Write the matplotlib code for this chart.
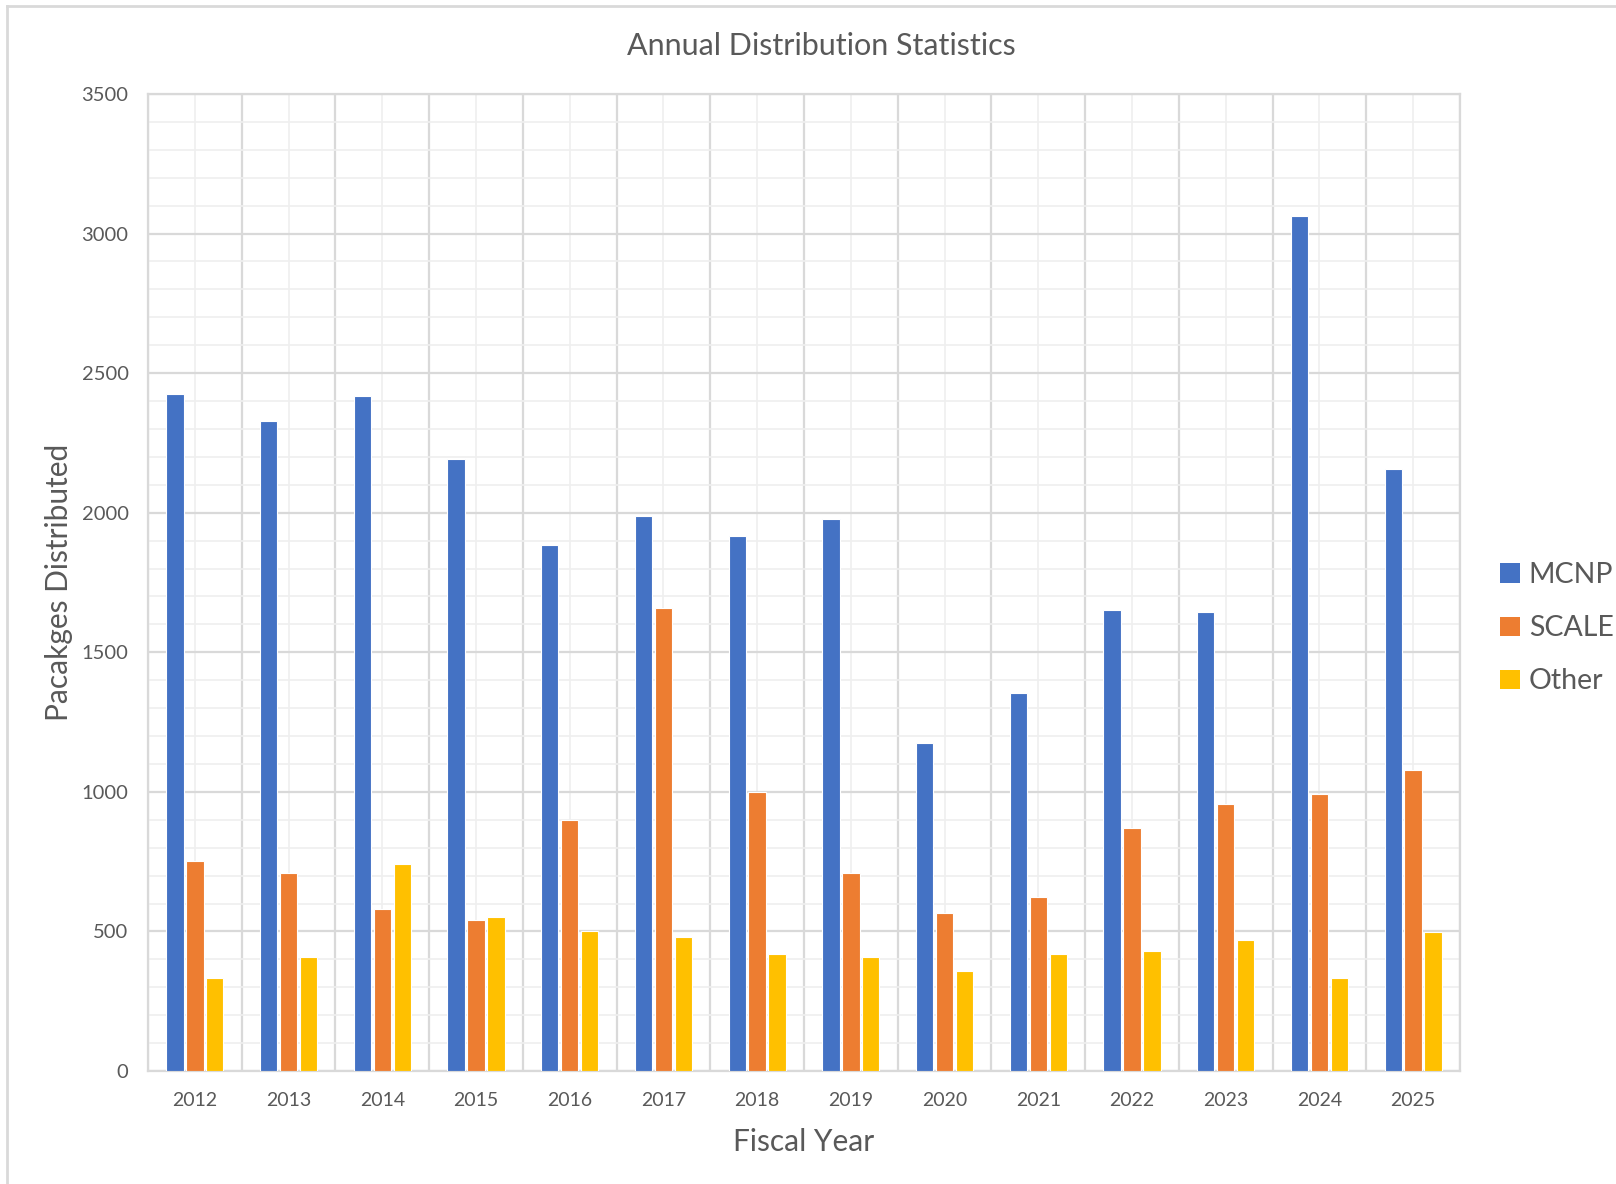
import matplotlib
matplotlib.use("Agg")
import matplotlib.pyplot as plt
import numpy as np
from matplotlib.ticker import MultipleLocator, FixedLocator
from matplotlib.lines import Line2D
from matplotlib.patches import Patch

plt.rcParams['font.family'] = ['Lato', 'DejaVu Sans']

years = ['2012', '2013', '2014', '2015', '2016', '2017', '2018', '2019',
         '2020', '2021', '2022', '2023', '2024', '2025']
mcnp = [2424, 2328, 2417, 2191, 1885, 1988, 1918, 1977, 1175, 1353, 1652, 1645, 3064, 2158]
scale = [754, 710, 580, 540, 898, 1659, 1001, 710, 565, 625, 872, 957, 994, 1079]
other = [333, 410, 743, 551, 503, 480, 418, 410, 358, 418, 429, 469, 333, 499]
series_names = ['MCNP', 'SCALE', 'Other']
colors = ['#4472C4', '#ED7D31', '#FFC000']

W, H = 1616, 1184
fig = plt.figure(figsize=(W / 100, H / 100), dpi=100)
left, right, top, bottom = 148, 1460, 94, 1071
ax = fig.add_axes([left / W, 1 - bottom / H, (right - left) / W, (bottom - top) / H])

x = np.arange(len(years))
bw = 0.185
step = 0.213
for i, (vals, c) in enumerate(zip([mcnp, scale, other], colors)):
    ax.bar(x + (i - 1) * step, vals, width=bw, color=c, edgecolor='white',
           linewidth=0.8, zorder=3, label=series_names[i])

ax.set_xlim(-0.5, len(years) - 0.5)
ax.set_ylim(0, 3500)
ax.yaxis.set_major_locator(MultipleLocator(500))
ax.yaxis.set_minor_locator(MultipleLocator(100))
ax.set_xticks(x)
ax.set_xticklabels(years)
ax.xaxis.set_minor_locator(FixedLocator(np.arange(-0.5, len(years), 1.0)))

# grid: major horizontal at 500, minor at 100; vertical darker at boundaries, light at centers
ax.grid(which='major', axis='y', color='#d9d9d9', linewidth=1.6, zorder=0)
ax.grid(which='minor', axis='y', color='#efefef', linewidth=1.2, zorder=0)
ax.grid(which='minor', axis='x', color='#d9d9d9', linewidth=1.6, zorder=0)
ax.grid(which='major', axis='x', color='#efefef', linewidth=1.2, zorder=0)
ax.set_axisbelow(True)

for s in ax.spines.values():
    s.set_color('#d9d9d9')
    s.set_linewidth(1.6)

ax.tick_params(which='both', length=0)
ax.tick_params(axis='y', labelsize=14.5, labelcolor='#595959', pad=14)
ax.tick_params(axis='x', labelsize=14, labelcolor='#595959', pad=15)

ax.set_xlabel('Fiscal Year', fontsize=21.5, color='#595959', labelpad=14)
ax.set_ylabel('Pacakges Distributed', fontsize=21.5, color='#595959', labelpad=6)
fig.text(821 / W, 1 - 46 / H, 'Annual Distribution Statistics', fontsize=22,
         color='#595959', ha='center', va='center')

handles = [Patch(facecolor=c, edgecolor='none') for c in colors]
leg = fig.legend(handles, series_names, loc='upper left',
                 bbox_to_anchor=(1489 / W, 1 - 551 / H), frameon=False,
                 fontsize=20.5, handlelength=0.7, handleheight=0.7,
                 handletextpad=0.3, labelspacing=0.95, borderaxespad=0)
for t in leg.get_texts():
    t.set_color('#595959')

# outer border (top and left visible)
fig.add_artist(Line2D([7 / W, 7 / W], [0, 1 - 6 / H], transform=fig.transFigure,
                      color='#d9d9d9', linewidth=2))
fig.add_artist(Line2D([7 / W, 1], [1 - 6 / H, 1 - 6 / H], transform=fig.transFigure,
                      color='#d9d9d9', linewidth=2))

fig.savefig('out.png', dpi=100, facecolor='white')
